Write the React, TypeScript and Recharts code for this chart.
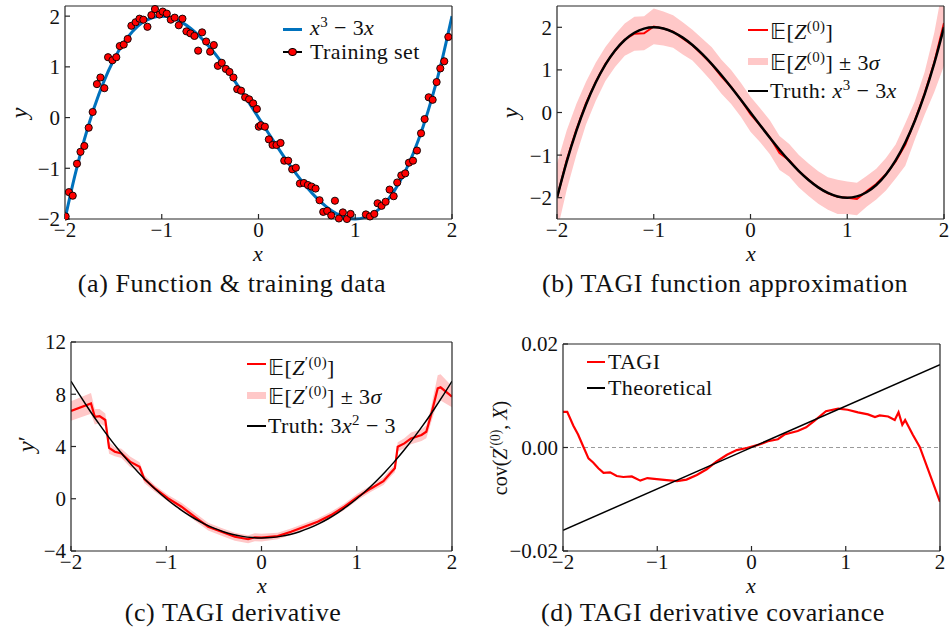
import React from 'react';
import { ComposedChart, Line, Area, Scatter, XAxis, YAxis, ReferenceLine } from 'recharts';

const FONT = "'Liberation Serif', 'Times New Roman', serif";
const RED = '#ff0000';
const PINK = '#ffc8c8';
const BLUE = '#0072bd';
const AXIS = '#262626';

// ---------- tick labels ----------
const xTicks = [-2, -1, 0, 1, 2];
const yTicksA = [-2, -1, 0, 1, 2];
const yTicksB = [-2, -1, 0, 1, 2];
const yTicksC = [-4, 0, 4, 8, 12];
const yTicksD = [-0.02, 0, 0.02];

const captions = [
  '(a) Function & training data',
  '(b) TAGI function approximation',
  '(c) TAGI derivative',
  '(d) TAGI derivative covariance',
];

// ---------- (a) truth curve x^3-3x & training set ----------
const gridX = [-2, -1.9, -1.8, -1.7, -1.6, -1.5, -1.4, -1.3, -1.2, -1.1, -1, -0.9, -0.8, -0.7, -0.6, -0.5, -0.4, -0.3, -0.2, -0.1, 0,
  0.1, 0.2, 0.3, 0.4, 0.5, 0.6, 0.7, 0.8, 0.9, 1, 1.1, 1.2, 1.3, 1.4, 1.5, 1.6, 1.7, 1.8, 1.9, 2];
const cubicY = [-2, -1.159, -0.432, 0.187, 0.704, 1.125, 1.456, 1.703, 1.872, 1.969, 2, 1.971, 1.888, 1.757, 1.584, 1.375, 1.136, 0.873, 0.592, 0.299, 0,
  -0.299, -0.592, -0.873, -1.136, -1.375, -1.584, -1.757, -1.888, -1.971, -2, -1.969, -1.872, -1.703, -1.456, -1.125, -0.704, -0.187, 0.432, 1.159, 2];

const trainX = [-1.993, -1.96, -1.92, -1.876, -1.84, -1.8, -1.755, -1.714, -1.67, -1.634, -1.593, -1.555, -1.51, -1.47, -1.434, -1.393, -1.352, -1.314, -1.27, -1.23,
  -1.19, -1.148, -1.107, -1.07, -1.024, -0.99, -0.948, -0.907, -0.866, -0.824, -0.786, -0.745, -0.703, -0.662, -0.624, -0.583, -0.541, -0.5, -0.462, -0.42,
  -0.38, -0.338, -0.3, -0.259, -0.22, -0.18, -0.138, -0.097, -0.055, -0.017, 0.003, 0.024, 0.066, 0.107, 0.145, 0.186, 0.228, 0.266, 0.307, 0.348,
  0.386, 0.428, 0.469, 0.51, 0.548, 0.59, 0.631, 0.669, 0.71, 0.752, 0.79, 0.831, 0.872, 0.914, 0.952, 1.11, 1.152, 1.197, 1.231, 1.272,
  1.314, 1.355, 1.397, 1.434, 1.476, 1.517, 1.555, 1.597, 1.638, 1.68, 1.717, 1.759, 1.8, 1.841, 1.879, 1.92, 1.962];
const trainY = [-1.95, -1.47, -1.54, -0.91, -0.675, -0.56, -0.2, 0.11, 0.66, 0.79, 0.58, 1.19, 1.13, 1.19, 1.41, 1.44, 1.55, 1.81, 1.88, 1.95,
  1.93, 1.79, 2.02, 2.14, 2.03, 2.09, 2.05, 1.93, 1.97, 1.82, 1.95, 1.7, 1.66, 1.61, 1.32, 1.68, 1.5, 1.3, 1.43, 1.02,
  1.08, 0.96, 0.9, 0.79, 0.56, 0.53, 0.4, 0.36, 0.28, 0.17, -0.18, -0.15, -0.18, -0.43, -0.54, -0.54, -0.5, -0.85, -0.85, -1.02,
  -0.99, -1.3, -1.29, -1.33, -1.36, -1.4, -1.63, -1.86, -1.84, -1.93, -1.64, -1.99, -1.87, -2.0, -1.9, -1.91, -1.95, -1.9, -1.69, -1.74,
  -1.66, -1.42, -1.55, -1.28, -1.14, -1.1, -0.89, -0.85, -0.65, -0.31, -0.03, 0.4, 0.35, 0.7, 0.97, 1.11, 1.59];

// ---------- (b) TAGI mean and 3 sigma ----------
const bX = [-2, -1.9, -1.8, -1.7, -1.6, -1.5, -1.4, -1.3, -1.2, -1.1, -1, -0.9, -0.8, -0.7, -0.6, -0.5, -0.4, -0.3, -0.2, -0.1, 0,
  0.1, 0.2, 0.3, 0.4, 0.5, 0.6, 0.7, 0.8, 0.9, 1, 1.1, 1.2, 1.3, 1.4, 1.5, 1.6, 1.7, 1.8, 1.9, 2];
const bMean = [-2.0, -1.12, -0.4, 0.22, 0.72, 1.14, 1.45, 1.71, 1.85, 1.86, 2.02, 1.97, 1.9, 1.74, 1.58, 1.36, 1.13, 0.84, 0.6, 0.3, -0.04,
  -0.3, -0.58, -0.95, -1.12, -1.38, -1.58, -1.76, -1.9, -1.98, -2.0, -2.03, -1.85, -1.68, -1.45, -1.15, -0.75, -0.18, 0.45, 1.18, 2.1];
const bThreeSigma = [0.8, 0.7, 0.6, 0.5, 0.45, 0.4, 0.38, 0.38, 0.4, 0.4, 0.42, 0.4, 0.38, 0.38, 0.36, 0.38, 0.4, 0.4, 0.4, 0.4, 0.41,
  0.4, 0.4, 0.4, 0.38, 0.38, 0.38, 0.38, 0.38, 0.4, 0.38, 0.38, 0.36, 0.36, 0.38, 0.4, 0.5, 0.45, 0.5, 0.7, 1.0];

// ---------- (c) derivative ----------
const derivY = [9, 7.83, 6.72, 5.67, 4.68, 3.75, 2.88, 2.07, 1.32, 0.63, 0, -0.57, -1.08, -1.53, -1.92, -2.25, -2.52, -2.73, -2.88, -2.97, -3,
  -2.97, -2.88, -2.73, -2.52, -2.25, -1.92, -1.53, -1.08, -0.57, 0, 0.63, 1.32, 2.07, 2.88, 3.75, 4.68, 5.67, 6.72, 7.83, 9];
const cX = [-2.0, -1.79, -1.75, -1.7, -1.64, -1.6, -1.54, -1.47, -1.38, -1.28, -1.23, -1.12, -0.98, -0.84, -0.7, -0.56, -0.42, -0.28, -0.14, -0.07,
  0.0, 0.17, 0.31, 0.45, 0.59, 0.73, 0.87, 1.01, 1.15, 1.28, 1.35, 1.4, 1.43, 1.5, 1.57, 1.68, 1.73, 1.78, 1.85, 1.88, 2.0];
const cMean = [6.72, 7.3, 6.28, 6.33, 6.03, 3.9, 3.6, 3.47, 2.84, 2.45, 1.51, 0.79, 0.03, -0.61, -1.38, -2.14, -2.53, -2.91, -3.1, -2.95,
  -2.98, -2.86, -2.53, -2.14, -1.76, -1.25, -0.61, 0.15, 0.79, 1.35, 1.94, 2.33, 3.98, 4.24, 4.62, 4.88, 5.13, 6.41, 8.45, 8.53, 7.81];
const cThreeSigma = [0.75, 0.8, 0.6, 0.55, 0.5, 0.45, 0.35, 0.35, 0.4, 0.35, 0.3, 0.25, 0.25, 0.3, 0.3, 0.3, 0.3, 0.3, 0.3, 0.3,
  0.3, 0.25, 0.25, 0.25, 0.25, 0.25, 0.25, 0.25, 0.25, 0.3, 0.3, 0.3, 0.35, 0.4, 0.45, 0.45, 0.5, 0.6, 1.0, 1.0, 0.8];

// ---------- (d) covariance ----------
const dX = [-2.0, -1.955, -1.89, -1.84, -1.785, -1.73, -1.68, -1.625, -1.57, -1.5, -1.43, -1.36, -1.27, -1.18, -1.105, -1.006, -0.9, -0.79, -0.69, -0.58,
  -0.475, -0.37, -0.26, -0.157, -0.05, 0.069, 0.175, 0.28, 0.35, 0.49, 0.58, 0.67, 0.79, 0.92, 1.02, 1.13, 1.236, 1.31, 1.36, 1.45,
  1.52, 1.56, 1.6, 1.63, 1.71, 1.785, 2.0];
const dTagi = [0.0069, 0.0069, 0.0042, 0.0025, 0.0002, -0.0021, -0.0029, -0.004, -0.0049, -0.0048, -0.0055, -0.0057, -0.0056, -0.0064, -0.0059, -0.0061, -0.0063, -0.0065, -0.0062, -0.0053,
  -0.0042, -0.0027, -0.0014, -0.0005, -0.0001, 0.0005, 0.0012, 0.0016, 0.0025, 0.0032, 0.0039, 0.0052, 0.007, 0.0075, 0.0073, 0.0068, 0.0064, 0.0059, 0.0062, 0.006,
  0.0053, 0.0068, 0.0044, 0.0053, 0.0025, 0.0001, -0.0105];
const theoryX = [-2, 2];
const theoryY = [-0.016, 0.016];

// ---------- data tables built from the arrays ----------
const pts = (xs: number[], ys: number[]) => xs.map((x, i) => ({ x, y: ys[i] }));
const band = (xs: number[], m: number[], s: number[]) => xs.map((x, i) => ({ x, band: [m[i] - s[i], m[i] + s[i]] }));

const truthA = pts(gridX, cubicY);
const trainData = pts(trainX, trainY);
const meanB = pts(bX, bMean);
const bandB = band(bX, bMean, bThreeSigma);
const truthC = pts(gridX, derivY);
const meanC = pts(cX, cMean);
const bandC = band(cX, cMean, cThreeSigma);
const tagiD = pts(dX, dTagi);
const theoryD = pts(theoryX, theoryY);

const fmtInt = (v: number) => (v < 0 ? '\u2212' + Math.abs(v) : String(v));
const fmt2 = (v: number) => (v < 0 ? '\u2212' + Math.abs(v).toFixed(2) : Math.abs(v).toFixed(2));

type Box = { L: number; T: number; R: number; B: number };

const tickStyle = { fontSize: 21, fill: '#111', fontFamily: FONT };

function Panel({ box, yDomain, yTicks, yFmt, overflow, children }: any) {
  const yw = 70, xh = 34, mt = 16, mr = 10;
  const pw = box.R - box.L, ph = box.B - box.T;
  const width = yw + pw + mr;
  const height = mt + ph + xh;
  const line = { stroke: AXIS, strokeWidth: 1.2 };
  return (
    <div style={{ position: 'absolute', left: box.L - yw, top: box.T - mt, width, height }}>
      <ComposedChart width={width} height={height} margin={{ top: mt - 1, right: mr - 1, bottom: 0, left: 0 }}>
        <XAxis xAxisId="b" dataKey="x" type="number" domain={[-2, 2]} ticks={xTicks} interval={0} orientation="bottom"
          height={xh} tickSize={-5} tickMargin={8} tickFormatter={fmtInt} tick={tickStyle} axisLine={line} tickLine={line} allowDataOverflow />
        <XAxis xAxisId="t" dataKey="x" type="number" domain={[-2, 2]} ticks={xTicks} interval={0} orientation="top"
          height={1} tickSize={-5} tick={false} axisLine={line} tickLine={line} allowDataOverflow />
        <YAxis yAxisId="l" type="number" domain={yDomain} ticks={yTicks} interval={0} orientation="left" width={yw}
          tickSize={-5} tickMargin={10} tickFormatter={yFmt} tick={tickStyle} axisLine={line} tickLine={line} allowDataOverflow={!overflow} />
        <YAxis yAxisId="r" type="number" domain={yDomain} ticks={yTicks} interval={0} orientation="right" width={1}
          tickSize={-5} tick={false} axisLine={line} tickLine={line} allowDataOverflow={!overflow} />
        {children}
      </ComposedChart>
    </div>
  );
}

function Sup({ children }: any) {
  return <span style={{ fontSize: '0.68em', position: 'relative', top: '-0.5em' }}>{children}</span>;
}

function Txt({ x, base, size, align, italic, spacing, children }: any) {
  return (
    <div style={{
      position: 'absolute', left: x, top: base - 0.84 * size, fontSize: size, lineHeight: `${size}px`,
      whiteSpace: 'nowrap', transform: align === 'center' ? 'translateX(-50%)' : undefined,
      fontStyle: italic ? 'italic' : 'normal', color: '#111', letterSpacing: spacing ?? 0,
    }}>{children}</div>
  );
}

function VTxt({ x, y, size, children }: any) {
  return (
    <div style={{
      position: 'absolute', left: x, top: y, fontSize: size, lineHeight: `${size}px`, whiteSpace: 'nowrap',
      transform: 'translate(-50%, -50%) rotate(-90deg)', color: '#111',
    }}>{children}</div>
  );
}

function Swatch({ x, y, w, h, color }: any) {
  return <div style={{ position: 'absolute', left: x, top: y - h / 2, width: w, height: h, background: color }} />;
}

const E = '\u{1D53C}';
const LEG = 22;
const LSP = 0.4;
const CAP = 26;
const CSP = 0.6;

export default function App() {
  const A: Box = { L: 65, T: 6, R: 452, B: 219 };
  const B: Box = { L: 557, T: 6, R: 944, B: 219 };
  const C: Box = { L: 71, T: 342, R: 452, B: 551 };
  const D: Box = { L: 563, T: 344, R: 940, B: 551 };
  const ax = { xAxisId: 'b', yAxisId: 'l' };
  return (
    <div style={{ position: 'absolute', left: 0, top: 0, width: 950, height: 629, background: '#fff', fontFamily: FONT, overflow: 'hidden' }}>
      {/* (a) */}
      <Panel box={A} yDomain={[-2, 2.2]} yTicks={yTicksA} yFmt={fmtInt} overflow>
        <Line {...ax} data={truthA} dataKey="y" type="natural" stroke={BLUE} strokeWidth={3} dot={false} isAnimationActive={false} />
        <Scatter {...ax} data={trainData} dataKey="y" isAnimationActive={false}
          shape={(p: any) => <circle cx={p.cx} cy={p.cy} r={3.6} fill={RED} stroke="#000" strokeWidth={0.9} />} />
      </Panel>
      {/* (b) */}
      <Panel box={B} yDomain={[-2.5, 2.5]} yTicks={yTicksB} yFmt={fmtInt}>
        <Area {...ax} data={bandB} dataKey="band" type="linear" stroke="none" fill={PINK} fillOpacity={1} isAnimationActive={false} />
        <Line {...ax} data={meanB} dataKey="y" type="linear" stroke={RED} strokeWidth={2} dot={false} isAnimationActive={false} />
        <Line {...ax} data={truthA} dataKey="y" type="natural" stroke="#000" strokeWidth={2.5} dot={false} isAnimationActive={false} />
      </Panel>
      {/* (c) */}
      <Panel box={C} yDomain={[-4, 12]} yTicks={yTicksC} yFmt={fmtInt}>
        <Area {...ax} data={bandC} dataKey="band" type="linear" stroke="none" fill={PINK} fillOpacity={1} isAnimationActive={false} />
        <Line {...ax} data={meanC} dataKey="y" type="linear" stroke={RED} strokeWidth={2.2} dot={false} isAnimationActive={false} />
        <Line {...ax} data={truthC} dataKey="y" type="natural" stroke="#000" strokeWidth={1.5} dot={false} isAnimationActive={false} />
      </Panel>
      {/* (d) */}
      <Panel box={D} yDomain={[-0.02, 0.02]} yTicks={yTicksD} yFmt={fmt2}>
        <ReferenceLine {...ax} y={0} stroke="#9a9a9a" strokeWidth={1} strokeDasharray="4 3" />
        <Line {...ax} data={tagiD} dataKey="y" type="linear" stroke={RED} strokeWidth={2.2} dot={false} isAnimationActive={false} />
        <Line {...ax} data={theoryD} dataKey="y" type="linear" stroke="#000" strokeWidth={1.5} dot={false} isAnimationActive={false} />
      </Panel>

      {/* legends (a) */}
      <Swatch x={283} y={29} w={19} h={3} color={BLUE} />
      <Txt x={310} base={35} size={LEG} spacing={LSP}><i>x</i><Sup>3</Sup> − 3<i>x</i></Txt>
      <Swatch x={283} y={52} w={19} h={1.2} color="#000" />
      <div style={{ position: 'absolute', left: 292.5 - 4.1, top: 52 - 4.1, width: 6.4, height: 6.4, borderRadius: '50%', background: RED, border: '0.9px solid #000' }} />
      <Txt x={310} base={59} size={LEG} spacing={LSP}>Training set</Txt>

      {/* legends (b) */}
      <Swatch x={748} y={30} w={20} h={2.2} color={RED} />
      <Txt x={770} base={39} size={LEG} spacing={LSP}>{E}[<i>Z</i><Sup>(0)</Sup>]</Txt>
      <Swatch x={748} y={61} w={20} h={7} color={PINK} />
      <Txt x={770} base={70} size={LEG} spacing={LSP}>{E}[<i>Z</i><Sup>(0)</Sup>] ± 3<i>σ</i></Txt>
      <Swatch x={748} y={91} w={20} h={2.5} color="#000" />
      <Txt x={770} base={98} size={LEG} spacing={LSP}>Truth: <i>x</i><Sup>3</Sup> − 3<i>x</i></Txt>

      {/* legends (c) */}
      <Swatch x={247} y={364} w={19} h={2.2} color={RED} />
      <Txt x={268} base={375} size={LEG} spacing={LSP}>{E}[<i>Z</i><Sup>′(0)</Sup>]</Txt>
      <Swatch x={247} y={395} w={19} h={7} color={PINK} />
      <Txt x={268} base={404} size={LEG} spacing={LSP}>{E}[<i>Z</i><Sup>′(0)</Sup>] ± 3<i>σ</i></Txt>
      <Swatch x={247} y={426} w={19} h={1.5} color="#000" />
      <Txt x={268} base={433} size={LEG} spacing={LSP}>Truth: 3<i>x</i><Sup>2</Sup> − 3</Txt>

      {/* legends (d) */}
      <Swatch x={587} y={362} w={18} h={2.2} color={RED} />
      <Txt x={608} base={369} size={LEG} spacing={LSP}>TAGI</Txt>
      <Swatch x={587} y={388} w={18} h={1.5} color="#000" />
      <Txt x={608} base={395} size={LEG} spacing={LSP}>Theoretical</Txt>

      {/* axis labels */}
      <Txt x={258} base={261} size={22} align="center" italic>x</Txt>
      <Txt x={751} base={261} size={22} align="center" italic>x</Txt>
      <Txt x={262} base={593} size={22} align="center" italic>x</Txt>
      <Txt x={751} base={593} size={22} align="center" italic>x</Txt>
      <VTxt x={19} y={113} size={24}><i>y</i></VTxt>
      <VTxt x={510} y={113} size={24}><i>y</i></VTxt>
      <VTxt x={26} y={444} size={24}><i>y</i>′</VTxt>
      <VTxt x={501} y={448} size={20}>cov(<i>Z</i><Sup>′(0)</Sup>, <i>X</i>)</VTxt>

      {/* captions */}
      <Txt x={232} base={293} size={CAP} spacing={CSP} align="center">{captions[0]}</Txt>
      <Txt x={725} base={293} size={CAP} spacing={CSP} align="center">{captions[1]}</Txt>
      <Txt x={233} base={622} size={CAP} spacing={CSP} align="center">{captions[2]}</Txt>
      <Txt x={713} base={622} size={CAP} spacing={CSP} align="center">{captions[3]}</Txt>
    </div>
  );
}
